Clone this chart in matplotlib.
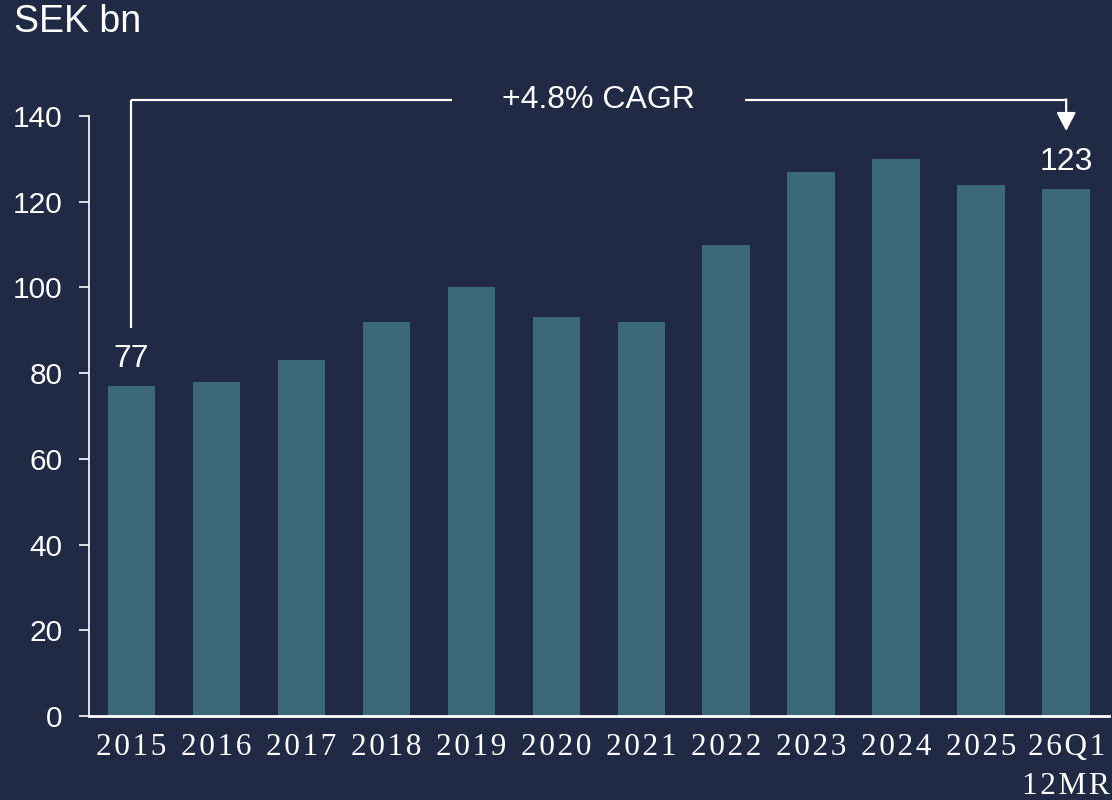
import matplotlib
matplotlib.use("Agg")
import matplotlib.pyplot as plt

categories = ["2015", "2016", "2017", "2018", "2019", "2020", "2021", "2022", "2023", "2024", "2025", "26Q1\n12MR"]
values = [77, 78, 83, 92, 100, 93, 92, 110, 127, 130, 124, 123]
yticks = [0, 20, 40, 60, 80, 100, 120, 140]
cagr_label = "+4.8% CAGR"
unit_label = "SEK bn"

BG = "#212a45"
BAR = "#3b6978"
W = "white"

fig = plt.figure(figsize=(11.12, 8.0), dpi=100, facecolor=BG)
ax = fig.add_axes([0.080, 0.105, 0.917, 0.75], facecolor=BG)

x = list(range(len(values)))
ax.bar(x, values, width=0.56, color=BAR, zorder=2)
ax.set_xlim(-0.5, len(values) - 0.5)
ax.set_ylim(0, 140)

for s in ["top", "right"]:
    ax.spines[s].set_visible(False)
ax.spines["left"].set_color(W)
ax.spines["bottom"].set_color(W)
ax.spines["left"].set_linewidth(1.2)
ax.spines["bottom"].set_linewidth(2.0)

ax.set_yticks(yticks)
ax.set_yticklabels([str(t) for t in yticks], fontsize=21.5, color=W, family="Liberation Sans")
ax.tick_params(axis="y", colors=W, length=7, width=1.2, pad=12)
ax.set_xticks(x)
spaced = ["\n".join("\u200a".join(list(p)) for p in c.split("\n")) for c in categories]
ax.set_xticklabels(spaced, fontsize=22.5, color=W, family="Liberation Serif", linespacing=1.45)
ax.tick_params(axis="x", length=0, pad=12, colors=W)

# value labels for first and last
for i in [0, len(values) - 1]:
    ax.text(x[i], values[i] + 2.7, str(values[i]), ha="center", va="bottom",
            fontsize=23, color=W, family="Liberation Sans")

# CAGR bracket
y_top = 143.7
lw = 1.6
ax.plot([x[0], x[0]], [90.5, y_top], color=W, lw=lw, clip_on=False, solid_capstyle="butt")
ax.plot([x[0], 3.77], [y_top, y_top], color=W, lw=lw, clip_on=False, solid_capstyle="butt")
ax.plot([7.22, x[-1]], [y_top, y_top], color=W, lw=lw, clip_on=False, solid_capstyle="butt")
ax.annotate("", xy=(x[-1], 136.5), xytext=(x[-1], y_top + 0.2),
            arrowprops=dict(arrowstyle="-|>,head_length=0.4,head_width=0.21", color=W, lw=lw,
                            mutation_scale=28, shrinkA=0, shrinkB=0), annotation_clip=False)
ax.text(5.5, y_top, cagr_label, ha="center", va="center", fontsize=23, color=W,
        family="Liberation Sans")

fig.text(0.013, 0.972, unit_label, ha="left", va="center", fontsize=27, color=W,
         family="Liberation Sans")

fig.savefig("out.png", dpi=100, facecolor=BG)
